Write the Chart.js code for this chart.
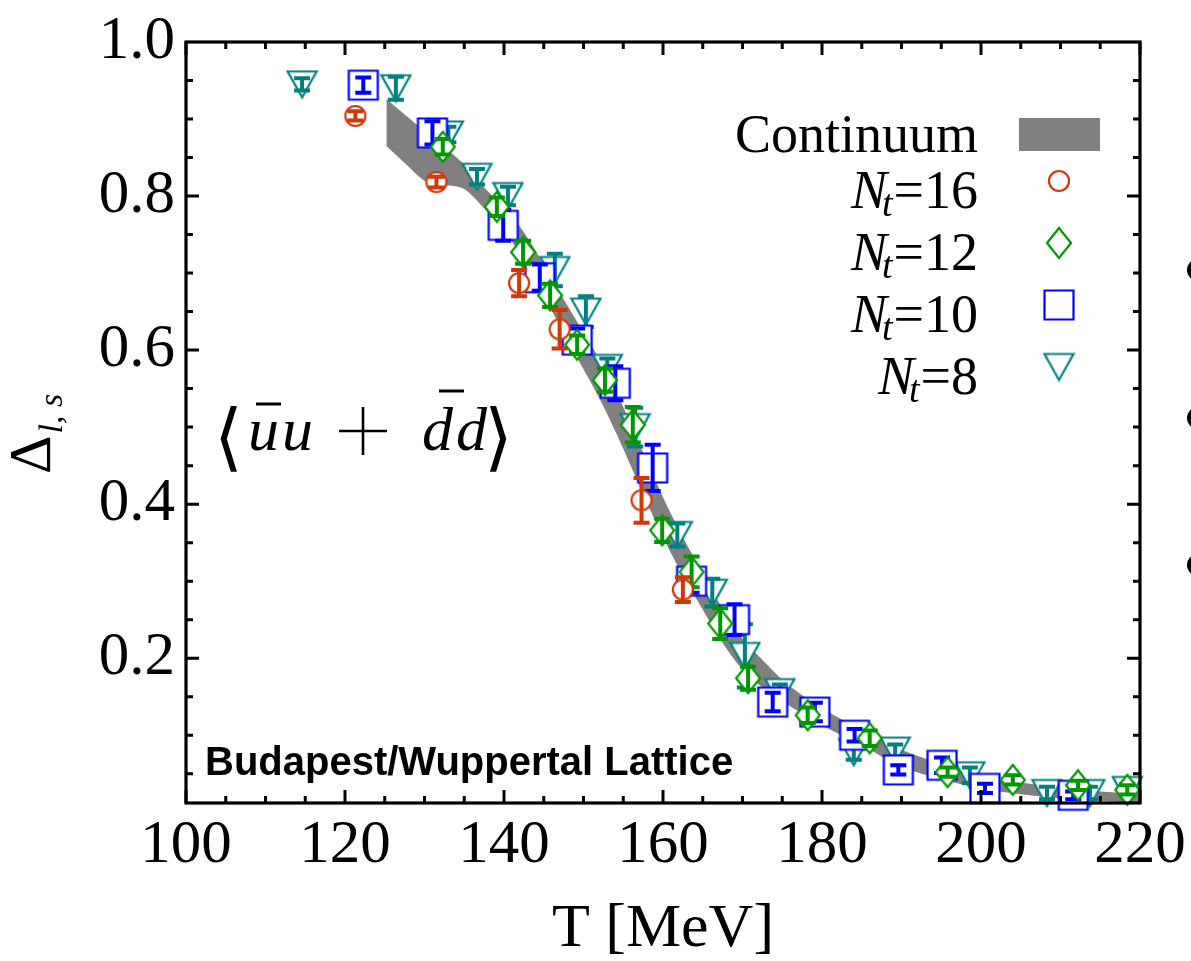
<!DOCTYPE html>
<html>
<head>
<meta charset="utf-8">
<script src="https://cdn.jsdelivr.net/npm/chart.js"></script>
<style>
  html, body { margin: 0; padding: 0; background: #fff; }
  canvas { display: block; }
</style>
</head>
<body>
<canvas id="chart" width="1191" height="961"></canvas>
<script>
// Delta_{l,s} vs temperature for each lattice extent N_t
const t16 = [121.3, 131.5, 141.9, 147.0, 157.3, 162.5];
const d16 = [0.904, 0.818, 0.687, 0.627, 0.405, 0.289];
const e16 = [0.006, 0.007, 0.017, 0.025, 0.029, 0.016];

const t12 = [132.3, 139.1, 142.4, 145.8, 149.2, 152.7, 156.2, 159.9, 163.6, 167.2, 170.7, 178.2, 186.0, 195.8, 204.0, 212.2, 218.4];
const d12 = [0.864, 0.786, 0.727, 0.671, 0.607, 0.561, 0.503, 0.366, 0.312, 0.245, 0.174, 0.126, 0.096, 0.052, 0.042, 0.035, 0.029];
const e12 = [0.010, 0.012, 0.015, 0.015, 0.012, 0.015, 0.023, 0.015, 0.020, 0.020, 0.015, 0.010, 0.010, 0.006, 0.006, 0.006, 0.006];

const t10 = [122.3, 131.0, 139.9, 144.5, 149.2, 154.0, 158.7, 163.6, 169.0, 173.8, 179.1, 184.1, 189.6, 195.1, 200.5, 211.6];
const d10 = [0.944, 0.882, 0.762, 0.694, 0.613, 0.557, 0.447, 0.300, 0.250, 0.143, 0.130, 0.100, 0.055, 0.061, 0.031, 0.022];
const e10 = [0.010, 0.015, 0.020, 0.017, 0.015, 0.022, 0.030, 0.015, 0.020, 0.012, 0.012, 0.008, 0.006, 0.010, 0.006, 0.005];

const t8 = [114.6, 126.4, 133.0, 136.6, 140.5, 146.4, 150.3, 153.0, 156.5, 161.8, 166.2, 170.3, 174.7, 184.0, 189.2, 198.6, 208.3, 213.7, 218.4];
const d8 = [0.945, 0.940, 0.880, 0.825, 0.800, 0.704, 0.650, 0.577, 0.500, 0.360, 0.285, 0.203, 0.156, 0.078, 0.080, 0.048, 0.025, 0.025, 0.029];
const e8 = [0.008, 0.015, 0.010, 0.010, 0.012, 0.021, 0.020, 0.012, 0.025, 0.015, 0.018, 0.041, 0.010, 0.010, 0.008, 0.010, 0.008, 0.008, 0.008];

// continuum extrapolation band
const bandT = [125.2, 127.5, 130.3, 132.5, 134.8, 137.5, 140, 142.5, 145, 147.5, 150, 152.5, 155, 157.5, 160,
               162.5, 165, 167.5, 170, 172.5, 175, 177.5, 180, 185, 190, 195, 200, 205, 210, 215, 220];
const bandHi = [0.926, 0.906, 0.882, 0.863, 0.843, 0.811, 0.785, 0.753, 0.711, 0.666, 0.623, 0.579, 0.526, 0.467, 0.409,
                0.357, 0.311, 0.264, 0.225, 0.198, 0.172, 0.152, 0.135, 0.107, 0.081, 0.063, 0.0475, 0.0385, 0.032, 0.027, 0.024];
const bandLo = [0.865, 0.843, 0.818, 0.814, 0.810, 0.784, 0.755, 0.717, 0.671, 0.622, 0.575, 0.527, 0.472, 0.413, 0.357,
                0.307, 0.263, 0.220, 0.185, 0.162, 0.144, 0.128, 0.113, 0.087, 0.059, 0.043, 0.0305, 0.0235, 0.018, 0.015, 0.012];

const xTicks = [100, 120, 140, 160, 180, 200, 220];
const yTicks = [0.2, 0.4, 0.6, 0.8, 1.0];
const ntLabels = ['16', '12', '10', '8'];

const RED = 'rgb(208,56,8)';
const GREEN = 'rgb(0,152,0)';
const BLUE = 'rgb(0,0,255)';
const TEAL = 'rgb(0,128,128)';
const GRAY = 'rgb(128,128,128)';

function pts(xs, ys) {
  return xs.map((x, i) => ({ x: x, y: ys[i] }));
}

// hollow (white filled) plot symbols, reused for the legend
function makeMarker(shape, color) {
  const c = document.createElement('canvas');
  const dims = { circle: [24, 24], diamond: [28, 34], square: [34, 34], triangle: [33, 31] }[shape];
  c.width = dims[0];
  c.height = dims[1];
  const g = c.getContext('2d');
  const cx = c.width / 2, cy = c.height / 2;
  g.beginPath();
  if (shape === 'circle') {
    g.arc(cx, cy, 10, 0, Math.PI * 2);
  } else if (shape === 'diamond') {
    g.moveTo(cx, cy - 15); g.lineTo(cx + 12, cy); g.lineTo(cx, cy + 15); g.lineTo(cx - 12, cy); g.closePath();
  } else if (shape === 'square') {
    g.rect(cx - 14.5, cy - 14.5, 29, 29);
  } else {
    g.moveTo(cx - 14.5, cy - 13); g.lineTo(cx + 14.5, cy - 13); g.lineTo(cx, cy + 13); g.closePath();
  }
  g.fillStyle = '#fff';
  g.fill();
  g.lineWidth = 2.2;
  g.strokeStyle = color;
  g.stroke();
  return c;
}

const mk16 = makeMarker('circle', RED);
const mk12 = makeMarker('diamond', GREEN);
const mk10 = makeMarker('square', BLUE);
const mk8 = makeMarker('triangle', TEAL);

function series(label, xs, ys, errs, color, marker) {
  return {
    type: 'scatter',
    label: label,
    data: pts(xs, ys),
    yErr: errs,
    borderColor: color,
    backgroundColor: color,
    pointStyle: marker,
    pointRadius: 10,
    pointHoverRadius: 10,
    clip: false
  };
}

const errorBars = {
  id: 'errorBars',
  afterDatasetDraw(chart, args) {
    const ds = chart.data.datasets[args.index];
    if (!ds.yErr) return;
    const ctx = chart.ctx;
    const y = chart.scales.y;
    ctx.save();
    ctx.strokeStyle = ds.borderColor;
    ctx.lineWidth = 4;
    ctx.lineCap = 'butt';
    ds.data.forEach((p, i) => {
      const px = args.meta.data[i].x;
      const top = y.getPixelForValue(p.y + ds.yErr[i]);
      const bot = y.getPixelForValue(p.y - ds.yErr[i]);
      ctx.beginPath();
      ctx.moveTo(px, top); ctx.lineTo(px, bot);
      ctx.moveTo(px - 8, top); ctx.lineTo(px + 8, top);
      ctx.moveTo(px - 8, bot); ctx.lineTo(px + 8, bot);
      ctx.stroke();
    });
    ctx.restore();
  }
};

// overlined italic letter for the condensate label
function barred(ctx, ch, x, base, barY, x0, x1) {
  ctx.fillText(ch, x, base);
  ctx.beginPath();
  ctx.moveTo(x + x0, barY);
  ctx.lineTo(x + x1, barY);
  ctx.stroke();
}

// frame with inward ticks on all four sides, titles, legend and labels
const decorations = {
  id: 'decorations',
  afterDraw(chart) {
    const ctx = chart.ctx;
    const a = chart.chartArea;
    const x = chart.scales.x, y = chart.scales.y;
    ctx.save();
    ctx.strokeStyle = '#000';
    ctx.lineWidth = 3;
    ctx.beginPath();
    for (let v = 100; v <= 220; v += 5) {
      const px = x.getPixelForValue(v);
      const len = v % 20 === 0 ? 13 : 7;
      ctx.moveTo(px, a.bottom); ctx.lineTo(px, a.bottom - len);
      ctx.moveTo(px, a.top); ctx.lineTo(px, a.top + len);
    }
    for (let k = 1; k <= 19; k++) {
      const py = y.getPixelForValue(k * 0.05);
      const len = k % 4 === 0 ? 13 : 7;
      ctx.moveTo(a.left, py); ctx.lineTo(a.left + len, py);
      ctx.moveTo(a.right, py); ctx.lineTo(a.right - len, py);
    }
    ctx.stroke();
    ctx.lineWidth = 3.2;
    ctx.strokeRect(a.left, a.top, a.right - a.left, a.bottom - a.top);

    ctx.fillStyle = '#000';
    ctx.textBaseline = 'alphabetic';

    // x title
    ctx.font = '62px "Liberation Serif"';
    ctx.textAlign = 'center';
    ctx.fillText('T [MeV]', (a.left + a.right) / 2, 946);

    // y title, rotated
    ctx.save();
    ctx.translate(50, 474);
    ctx.rotate(-Math.PI / 2);
    ctx.textAlign = 'left';
    ctx.font = '60px "Liberation Serif"';
    ctx.fillText('\u0394', 0, 0);
    const wDelta = ctx.measureText('\u0394').width;
    ctx.font = 'italic 34px "Liberation Serif"';
    ctx.fillText('l, s', wDelta + 2, 12);
    ctx.restore();

    // legend
    const right = 978;
    ctx.textAlign = 'left';
    ctx.font = '54px "Liberation Serif"';
    ctx.fillText('Continuum', right - ctx.measureText('Continuum').width, 152);
    ctx.fillStyle = GRAY;
    ctx.fillRect(1019, 118, 81, 33);
    const marks = [mk16, mk12, mk10, mk8];
    ntLabels.forEach((n, i) => {
      const base = 208 + i * 62;
      ctx.fillStyle = '#000';
      ctx.font = '54px "Liberation Serif"';
      const rest = '=' + n;
      const w1 = ctx.measureText(rest).width;
      ctx.fillText(rest, right - w1, base);
      ctx.font = 'italic 38px "Liberation Serif"';
      const w2 = ctx.measureText('t').width;
      ctx.fillText('t', right - w1 - w2 - 1, base + 8);
      ctx.font = 'italic 54px "Liberation Serif"';
      const w3 = ctx.measureText('N').width;
      ctx.fillText('N', right - w1 - w2 - w3 + 4, base);
      const m = marks[i];
      ctx.drawImage(m, 1059 - m.width / 2, base - 27 - m.height / 2);
    });

    // condensate label  <ubar u + dbar d>
    ctx.fillStyle = '#000';
    ctx.strokeStyle = '#000';
    const mb = 450;
    ctx.font = '74px "DejaVu Serif"';
    ctx.fillText('\u27E8', 214, mb + 12);
    ctx.fillText('\u27E9', 484, mb + 12);
    ctx.lineWidth = 3;
    ctx.font = 'italic 62px "Liberation Serif"';
    barred(ctx, 'u', 248, mb, 404, 8, 33);
    ctx.fillText('u', 282, mb);
    ctx.beginPath();
    ctx.lineWidth = 2.6;
    ctx.moveTo(339, 431); ctx.lineTo(387, 431);
    ctx.moveTo(363, 407); ctx.lineTo(363, 455);
    ctx.stroke();
    ctx.lineWidth = 3;
    barred(ctx, 'd', 422, mb, 391, 17, 42);
    ctx.fillText('d', 456, mb);

    // collaboration tag
    ctx.font = 'bold 40px "Liberation Sans"';
    ctx.fillText('Budapest/Wuppertal Lattice', 205, 775);

    // bullets of the neighbouring panel
    [270, 418, 565].forEach(py => {
      ctx.beginPath();
      ctx.arc(1198, py, 11, 0, Math.PI * 2);
      ctx.fill();
    });
    ctx.restore();
  }
};

new Chart(document.getElementById('chart'), {
  type: 'scatter',
  data: {
    datasets: [
      series('N_t=16', t16, d16, e16, RED, mk16),
      series('N_t=12', t12, d12, e12, GREEN, mk12),
      series('N_t=10', t10, d10, e10, BLUE, mk10),
      series('N_t=8', t8, d8, e8, TEAL, mk8),
      {
        type: 'line',
        label: 'Continuum',
        data: pts(bandT, bandHi),
        borderWidth: 0,
        borderColor: 'rgba(0,0,0,0)',
        backgroundColor: GRAY,
        pointRadius: 0,
        fill: '+1',
        cubicInterpolationMode: 'monotone'
      },
      {
        type: 'line',
        label: 'Continuum low',
        data: pts(bandT, bandLo),
        borderWidth: 0,
        borderColor: 'rgba(0,0,0,0)',
        pointRadius: 0,
        fill: false,
        cubicInterpolationMode: 'monotone'
      }
    ]
  },
  options: {
    responsive: false,
    animation: false,
    events: [],
    layout: { padding: { top: 42, right: 51, left: 0, bottom: 0 } },
    plugins: {
      legend: { display: false },
      tooltip: { enabled: false }
    },
    scales: {
      x: {
        type: 'linear',
        min: 100,
        max: 220,
        grid: { display: false, drawTicks: false },
        border: { display: false },
        afterFit(scale) {
          scale.height = 158;
          scale.paddingLeft = 0;
          scale.paddingRight = 0;
        },
        afterBuildTicks(scale) { scale.ticks = xTicks.map(v => ({ value: v })); },
        ticks: {
          font: { family: 'Liberation Serif', size: 61 },
          color: '#000',
          padding: 6,
          maxRotation: 0,
          autoSkip: false
        }
      },
      y: {
        min: 0.012,
        max: 1.0,
        grid: { display: false, drawTicks: false },
        border: { display: false },
        afterFit(scale) {
          scale.width = 186;
          scale.paddingTop = 0;
          scale.paddingBottom = 0;
        },
        afterBuildTicks(scale) { scale.ticks = yTicks.map(v => ({ value: v })); },
        ticks: {
          font: { family: 'Liberation Serif', size: 61 },
          color: '#000',
          padding: 11,
          autoSkip: false,
          callback: v => v.toFixed(1)
        }
      }
    }
  },
  plugins: [errorBars, decorations]
});
</script>
</body>
</html>
